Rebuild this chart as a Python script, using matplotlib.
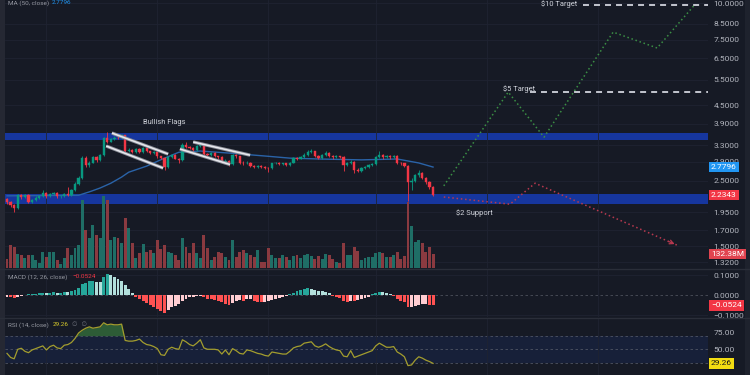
import matplotlib
matplotlib.use("Agg")
import matplotlib.pyplot as plt
from matplotlib.ticker import NullLocator
from matplotlib.lines import Line2D
from matplotlib.patches import Rectangle
import numpy as np

plt.rcParams['font.family'] = ['Roboto', 'DejaVu Sans']

# ---------------- data ----------------
closes = [2.12, 2.07, 2.02, 2.23, 2.20, 2.24, 2.12, 2.15, 2.19, 2.21,
          2.27, 2.21, 2.25, 2.27, 2.21, 2.22, 2.25, 2.23, 2.32, 2.44,
          2.56, 2.98, 2.82, 2.88, 3.00, 2.93, 3.05, 3.48, 3.39, 3.45,
          3.50, 3.48, 3.56, 3.15, 3.18, 3.12, 3.20, 3.13, 3.22, 3.14,
          3.10, 3.12, 3.02, 2.98, 2.77, 3.00, 3.05, 2.97, 2.93, 3.30,
          3.25, 3.22, 3.18, 3.27, 3.30, 3.08, 3.05, 3.10, 3.02, 3.00,
          2.90, 2.92, 2.85, 3.05, 3.02, 2.88, 2.86, 2.88, 2.80, 2.78,
          2.80, 2.79, 2.76, 2.75, 2.86, 2.87, 2.84, 2.86, 2.83, 2.88,
          2.98, 2.97, 3.00, 3.06, 3.12, 3.15, 3.03, 2.99, 3.05, 3.10,
          3.04, 3.00, 3.02, 3.01, 2.83, 2.86, 2.90, 2.72, 2.70, 2.75,
          2.78, 2.82, 2.85, 3.00, 3.05, 3.00, 3.03, 3.00, 3.03, 2.88,
          2.86, 2.80, 2.47, 2.50, 2.62, 2.66, 2.56, 2.47, 2.38, 2.2343]
first_open = 2.17
highs = [2.19, 2.14, 2.09, 2.25, 2.25, 2.26, 2.25, 2.17, 2.21, 2.23,
         2.33, 2.28, 2.27, 2.29, 2.28, 2.24, 2.27, 2.38, 2.34, 2.47,
         2.60, 3.02, 3.02, 2.92, 3.04, 3.03, 3.08, 3.52, 3.66, 3.48,
         3.53, 3.58, 3.60, 3.58, 3.22, 3.20, 3.23, 3.22, 3.25, 3.24,
         3.16, 3.15, 3.13, 3.04, 3.00, 3.02, 3.08, 3.07, 2.99, 3.35,
         3.38, 3.28, 3.24, 3.30, 3.33, 3.32, 3.10, 3.13, 3.12, 3.04,
         3.02, 2.95, 2.94, 3.08, 3.07, 3.04, 2.91, 2.91, 2.90, 2.82,
         2.83, 2.82, 2.81, 2.78, 2.88, 2.90, 2.89, 2.88, 2.88, 2.90,
         3.01, 3.00, 3.03, 3.09, 3.18, 3.20, 3.16, 3.05, 3.08, 3.14,
         3.12, 3.06, 3.05, 3.04, 3.03, 2.89, 2.93, 2.92, 2.75, 2.77,
         2.80, 2.84, 2.88, 3.03, 3.15, 3.08, 3.06, 3.05, 3.06, 3.05,
         2.90, 2.88, 2.82, 2.55, 2.64, 2.72, 2.68, 2.58, 2.49, 2.40]
lows = [2.09, 2.03, 1.95, 2.00, 2.17, 2.18, 2.10, 2.10, 2.13, 2.17,
        2.20, 2.19, 2.20, 2.23, 2.19, 2.19, 2.20, 2.21, 2.21, 2.30,
        2.42, 2.54, 2.78, 2.79, 2.86, 2.90, 2.91, 3.03, 3.36, 3.37,
        3.42, 3.45, 3.46, 3.10, 3.12, 3.09, 3.10, 3.10, 3.11, 3.12,
        3.07, 3.08, 2.99, 2.95, 2.72, 2.75, 2.98, 2.95, 2.88, 2.91,
        3.22, 3.19, 3.15, 3.16, 3.25, 3.05, 3.02, 3.03, 3.00, 2.97,
        2.87, 2.88, 2.80, 2.83, 2.99, 2.85, 2.83, 2.84, 2.77, 2.75,
        2.76, 2.76, 2.73, 2.68, 2.73, 2.84, 2.82, 2.82, 2.81, 2.81,
        2.86, 2.94, 2.95, 2.98, 3.04, 3.10, 3.00, 2.96, 2.97, 3.03,
        3.01, 2.97, 2.98, 2.98, 2.70, 2.80, 2.84, 2.66, 2.67, 2.68,
        2.73, 2.76, 2.80, 2.83, 2.98, 2.97, 2.98, 2.97, 2.98, 2.85,
        2.83, 2.77, 2.13, 2.33, 2.48, 2.58, 2.53, 2.44, 2.35, 2.21]
volumes_m = [85, 217, 199, 132, 123, 95, 123, 123, 76, 47,
             151, 104, 151, 151, 76, 38, 95, 189, 123, 189,
             217, 643, 359, 284, 407, 312, 284, 681, 643, 265,
             293, 284, 236, 473, 378, 236, 95, 142, 227, 151,
             170, 142, 265, 180, 217, 151, 142, 123, 76, 284,
             199, 142, 236, 142, 95, 312, 189, 76, 104, 151,
             142, 104, 76, 265, 104, 151, 170, 142, 123, 104,
             170, 57, 57, 189, 123, 95, 95, 123, 104, 76,
             113, 123, 95, 123, 132, 113, 85, 113, 85, 132,
             123, 85, 57, 47, 236, 123, 123, 199, 161, 76,
             95, 104, 104, 142, 151, 142, 104, 104, 123, 151,
             85, 113, 624, 397, 246, 265, 236, 151, 199, 132.38]
macd_hist = [-0.008, -0.012, -0.017, -0.010, -0.004, 0.002, 0.003, 0.004, 0.006, 0.008,
             0.012, 0.010, 0.011, 0.013, 0.010, 0.011, 0.014, 0.013, 0.018, 0.025,
             0.034, 0.055, 0.060, 0.068, 0.070, 0.066, 0.064, 0.090, 0.105, 0.098,
             0.090, 0.080, 0.070, 0.050, 0.030, 0.008, -0.010, -0.020, -0.028, -0.038,
             -0.048, -0.058, -0.068, -0.080, -0.088, -0.075, -0.062, -0.055, -0.045, -0.030,
             -0.020, -0.012, -0.010, -0.006, -0.004, -0.012, -0.018, -0.020, -0.026, -0.030,
             -0.036, -0.044, -0.050, -0.040, -0.032, -0.026, -0.031, -0.022, -0.020, -0.028,
             -0.033, -0.036, -0.036, -0.030, -0.024, -0.020, -0.016, -0.012, -0.006, 0.004,
             0.012, 0.018, 0.024, 0.030, 0.034, 0.030, 0.025, 0.022, 0.020, 0.016,
             0.008, -0.003, -0.010, -0.016, -0.028, -0.033, -0.028, -0.030, -0.026, -0.020,
             -0.014, -0.008, 0.004, 0.012, 0.016, 0.015, 0.012, 0.006, -0.006, -0.020,
             -0.030, -0.036, -0.062, -0.060, -0.056, -0.050, -0.045, -0.044, -0.049, -0.0524]
rsi = [44, 38, 36, 50, 51.5, 47, 45, 49, 51, 53,
       55, 49, 54, 56, 52, 51, 56, 57, 60, 66,
       74, 78, 81, 83, 81, 82, 83, 89, 86, 87,
       86, 86, 87, 63, 62, 62, 63, 65, 60, 57,
       56, 54, 51, 42, 41, 50, 53, 51, 50, 64,
       61, 57, 55, 59, 64, 52, 50, 50, 50, 49,
       43, 49, 42, 51, 48, 44, 43, 49, 48, 46,
       44, 43, 41, 40, 46, 45, 44, 43, 43, 47,
       52, 54, 55, 59, 60, 61, 55, 53, 55, 58,
       54, 51, 49, 48, 40, 39, 48, 38, 40, 42,
       44, 46, 48, 55, 59, 56, 53, 53, 54, 46,
       43, 39, 26, 27, 34, 39, 37, 34, 32, 29.26]

ma_idx = [0, 20, 23, 26, 29, 32, 34, 39, 44, 48, 54, 62, 72, 79, 87, 99, 109, 115, 119]
ma_val = [2.22, 2.23, 2.29, 2.36, 2.45, 2.57, 2.67, 2.80, 2.98, 3.12, 3.15, 3.10,
          3.03, 2.98, 2.96, 2.94, 2.96, 2.87, 2.7796]

support_band = (2.09, 2.25)
resistance_band = (3.43, 3.63)

flag1_upper = ([29.3, 45.0], [3.625, 3.077])
flag1_lower = ([27.7, 43.6], [3.276, 2.757])
flag2_upper = ([52.0, 67.9], [3.38, 3.05])
flag2_lower = ([48.3, 62.3], [3.20, 2.835])

bull_idx = [122, 140, 150, 169.3, 181.6, 192.2]
bull_price = [2.40, 4.99, 3.51, 7.97, 7.04, 9.9]
bear_idx = [122, 140.5, 147.5, 187.2]
bear_price = [2.20, 2.08, 2.45, 1.51]

target5_price, target5_start = 5.0, 146
target10_price, target10_start = 9.85, 161

price_ticks = [10.0, 8.5, 7.5, 6.5, 5.5, 4.5, 3.9, 3.3, 2.9, 2.5, 1.95, 1.7, 1.5, 1.32]
macd_ticks = [0.1, 0.0, -0.1]
rsi_ticks = [75, 50]
grid_idx = [11, 42, 73, 103, 134, 165]

last_ma = 2.7796
last_close = 2.2343
last_vol = 132.38
last_macd = -0.0524
last_rsi = 29.26

# ---------------- style ----------------
BG = '#161a25'
GRID = '#1f2331'
TXT = '#b2b5be'
GREEN = '#089981'
RED = '#f23645'
BAND = '#16369e'
W, H = 750, 375

n = min(len(closes), len(highs), len(lows), len(volumes_m), len(macd_hist), len(rsi))
idx = np.arange(n)
c = np.array(closes[:n])
o = np.array([first_open] + closes[:n - 1])
hi = np.array(highs[:n])
lo = np.array(lows[:n])
up = c >= o
ccol = np.where(up, GREEN, RED)

fig = plt.figure(figsize=(7.5, 3.75), dpi=100, facecolor=BG)

x0p, x1p = 5, 708
main_rect = [x0p / W, 1 - 268 / H, (x1p - x0p) / W, 268 / H]
macd_rect = [x0p / W, 1 - 317 / H, (x1p - x0p) / W, 48 / H]
rsi_rect = [x0p / W, 0, (x1p - x0p) / W, 57 / H]
XL = (-0.56, 195.8)
PL = (1.264, 10.24)

ax_bg = fig.add_axes(main_rect)
ax_vol = fig.add_axes(main_rect)
ax = fig.add_axes(main_rect)
ax_m = fig.add_axes(macd_rect)
ax_r = fig.add_axes(rsi_rect)

for a in (ax_bg, ax_vol, ax, ax_m, ax_r):
    for s in a.spines.values():
        s.set_visible(False)
    a.set_xlim(*XL)
    a.set_xticks([])
ax_bg.set_facecolor(BG)
ax_vol.set_facecolor('none')
ax.set_facecolor('none')
ax_m.set_facecolor(BG)
ax_r.set_facecolor(BG)

# background: grid + bands
ax_bg.set_yscale('log')
ax_bg.set_ylim(*PL)
ax_bg.set_yticks([])
ax_bg.yaxis.set_minor_locator(NullLocator())
for p in price_ticks:
    ax_bg.axhline(p, color=GRID, lw=0.6)
for g in grid_idx:
    for a in (ax_bg, ax_m, ax_r):
        a.axvline(g, color=GRID, lw=0.6)
ax_bg.axhspan(*support_band, color=BAND, lw=0)
ax_bg.axhspan(*resistance_band, color=BAND, lw=0)

# volume
ax_vol.set_ylim(0, 2535)
ax_vol.set_yticks([])
vcol = np.where(up, '#1f6e66', '#8a3a40')
ax_vol.bar(idx, volumes_m[:n], width=0.82, color=vcol, lw=0)

# candles
ax.set_yscale('log')
ax.set_ylim(*PL)
ax.vlines(idx, lo, hi, color=ccol, lw=0.6, zorder=3)
ax.bar(idx, np.abs(c - o), bottom=np.minimum(o, c), width=0.62, color=ccol,
       edgecolor=ccol, lw=0.3, zorder=4)
ax.plot(ma_idx, ma_val, color='#2a63a8', lw=1.0, zorder=2)

for fl in (flag1_upper, flag1_lower, flag2_upper, flag2_lower):
    ax.plot(fl[0], fl[1], color='#8c8f99', lw=2.4, solid_capstyle='butt', zorder=5)
    ax.plot(fl[0], fl[1], color='#e8e9ee', lw=1.1, solid_capstyle='butt', zorder=6)

ax.plot(bull_idx, bull_price, color='#3b8f45', lw=1.1, ls=(0, (1, 1.8)), zorder=5)
ax.plot(bear_idx, bear_price, color='#b8394f', lw=1.1, ls=(0, (1, 1.8)), zorder=5)
bx, by = bear_idx[-1], bear_price[-1]
px_, py_ = bear_idx[-2], bear_price[-2]
ax.annotate('', xy=(bx, by), xytext=(bx - 0.08 * (bx - px_), by * (py_ / by) ** 0.08),
            arrowprops=dict(arrowstyle='->', color='#b8394f', lw=0.9, mutation_scale=7),
            zorder=6)

ax.hlines(target5_price, target5_start, XL[1], color='#d1d4dc', lw=1.3, ls=(0, (3.3, 2.8)), zorder=5)
ax.hlines(target10_price, target10_start, XL[1], color='#d1d4dc', lw=1.3, ls=(0, (3.3, 2.8)), zorder=5)

ax.text(38, 3.95, 'Bullish Flags', color='#d1d4dc', fontsize=5.4, va='center', ha='left', zorder=7)
ax.text(138.5, 5.11, '$5 Target', color='#d1d4dc', fontsize=5.4, va='center', ha='left', zorder=7)
ax.text(125.4, 1.94, '$2 Support', color='#d1d4dc', fontsize=5.4, va='center', ha='left', zorder=7)
ax.text(149.2, PL[1], '$10 Target', color='#d1d4dc', fontsize=5.4, va='top', ha='left',
        zorder=7)

ax.yaxis.tick_right()
ax.set_yticks(price_ticks)
ax.set_yticklabels([f'{p:.4f}' for p in price_ticks])
ax.yaxis.set_minor_locator(NullLocator())
ax.tick_params(axis='y', length=0, pad=4, labelsize=6, labelcolor=TXT)

# MACD
ax_m.set_ylim(-0.11, 0.13)
mh = np.array(macd_hist[:n])
mcol = []
for i, v in enumerate(mh):
    prev = mh[i - 1] if i > 0 else v
    if v >= 0:
        mcol.append('#26a69a' if v > prev else '#b2dfdb')
    else:
        mcol.append('#ff5252' if v < prev else '#ffcdd2')
ax_m.axhline(0, color='#4c505b', lw=0.6, ls=(0, (3, 3)), zorder=1)
for t in (0.1, -0.1):
    ax_m.axhline(t, color=GRID, lw=0.6, zorder=0)
ax_m.bar(idx, mh, width=0.82, color=mcol, lw=0, zorder=2)
ax_m.yaxis.tick_right()
ax_m.set_yticks(macd_ticks)
ax_m.set_yticklabels(['0.1000', '0.0000', '\u22120.1000'])
ax_m.tick_params(axis='y', length=0, pad=4, labelsize=6, labelcolor=TXT)

# RSI
ax_r.set_ylim(12.2, 96)
ax_r.axhspan(30, 70, color='#172039', lw=0, zorder=0)
for lvl in (70, 50, 30):
    ax_r.axhline(lvl, color='#4f5463', lw=0.6, ls=(0, (3, 3)), zorder=1)
rv = np.array(rsi[:n], dtype=float)
ax_r.fill_between(idx, rv, 70, where=rv >= 70, interpolate=True, color='#2d5c36', lw=0, zorder=2)
ax_r.plot(idx, rv, color='#a39d2e', lw=0.9, zorder=3)
ax_r.yaxis.tick_right()
ax_r.set_yticks(rsi_ticks)
ax_r.set_yticklabels(['75.00', '50.00'])
ax_r.tick_params(axis='y', length=0, pad=4, labelsize=6, labelcolor=TXT)

# separators and strips
for yp in (268.5, 317.5):
    fig.add_artist(Line2D([0, 1], [1 - yp / H, 1 - yp / H], transform=fig.transFigure,
                          color='#2a2e39', lw=1.0))
fig.add_artist(Rectangle((0, 0), 5 / W, 1, transform=fig.transFigure, color='#252833', lw=0))
fig.add_artist(Rectangle((745 / W, 0), 5 / W, 1, transform=fig.transFigure, color='#1e222d', lw=0))


def value_box(axis, value, text, fc, tc):
    ydisp = axis.transData.transform((axis.get_xlim()[1], value))[1]
    fig.text(711 / W, ydisp / fig.bbox.height, text, fontsize=6, color=tc, va='center',
             ha='left', zorder=20,
             bbox=dict(boxstyle='square,pad=0.28', fc=fc, ec='none'))


value_box(ax, last_ma, f'{last_ma:.4f}', '#2196f3', 'white')
value_box(ax, last_close, f'{last_close:.4f}', RED, 'white')
value_box(ax_vol, last_vol, f'{last_vol:.2f}M', '#e0434f', 'white')
value_box(ax_m, last_macd, f'\u2212{abs(last_macd):.4f}', RED, 'white')
value_box(ax_r, last_rsi, f'{last_rsi:.2f}', '#f2dc12', '#1a1a1a')

# legends / headers
fig.text(8 / W, 1.0 - 0.5 / H, 'MA (50, close)', fontsize=4.6, color='#9598a1', va='top', ha='left')
fig.text(52 / W, 1.0 - 0.5 / H, f'{last_ma:.4f}', fontsize=4.6, color='#2196f3', va='top', ha='left')
fig.text(8 / W, 1 - 277 / H, 'MACD (12, 26, close)', fontsize=4.6, color='#9598a1', va='center', ha='left')
fig.text(72 / W, 1 - 277 / H, f'\u2212{abs(last_macd):.4f}', fontsize=4.6, color=RED, va='center', ha='left')
fig.text(8 / W, 1 - 325 / H, 'RSI (14, close)', fontsize=4.6, color='#9598a1', va='center', ha='left')
fig.text(53 / W, 1 - 325 / H, f'{last_rsi:.2f}', fontsize=4.6, color='#d9cc2c', va='center', ha='left')
fig.text(72 / W, 1 - 325 / H, '\u2205  \u2205', fontsize=4.6, color='#6a6d78', va='center', ha='left',
         family=['DejaVu Sans'])

fig.savefig('out.png', dpi=100, facecolor=BG)
